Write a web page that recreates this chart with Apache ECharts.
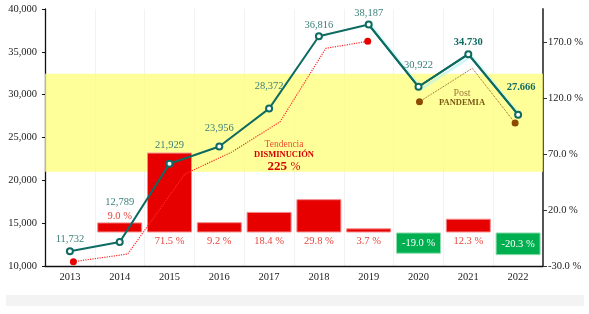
<!DOCTYPE html>
<html>
<head>
<meta charset="utf-8">
<script src="https://cdn.jsdelivr.net/npm/echarts@6/dist/echarts.min.js"></script>
<style>
  html, body { margin: 0; padding: 0; background: #fff; }
  #box { width: 589px; height: 314px; }
</style>
</head>
<body>
<div id="box"></div>
<script>
var chart = echarts.init(document.getElementById('box'));

// datos
var years = ['2013', '2014', '2015', '2016', '2017', '2018', '2019', '2020', '2021', '2022'];
var totals = [11732, 12789, 21929, 23956, 28372, 36816, 38187, 30922, 34730, 27666];
var totalLabels = ['11,732', '12,789', '21,929', '23,956', '28,372', '36,816', '38,187', '30,922', '34.730', '27.666'];
var growth = [null, 9.0, 71.5, 9.2, 18.4, 29.8, 3.7, -19.0, 12.3, -20.3];
// tendencia (linea punteada roja), x en posicion de categoria
var trendX = [0.07, 1.16, 2.31, 3.25, 4.22, 5.14, 5.98];
var trendY = [10500, 11400, 20740, 23300, 26840, 35410, 36230];
// post pandemia (linea punteada marron)
var postX = [7.02, 8.08, 8.94];
var postY = [29180, 33080, 26690];
var band = [21000, 32450];
var pctTicks = [-30, 20, 70, 120, 170];

var serif = "'Liberation Serif', 'DejaVu Serif', serif";
var labelDist = [2, 30, 9, 9, 13, 2, 2, 12, 2, 18];

function endDots(xs, ys, color) {
  return xs.map(function(x, i) {
    var end = (i === 0 || i === xs.length - 1);
    return {
      value: [x, ys[i]],
      symbol: end ? 'circle' : 'none',
      symbolSize: 7,
      itemStyle: { color: color }
    };
  });
}

var barData = growth.map(function(v, i) {
  if (v === null) return null;
  var neg = v < 0;
  var pos = neg ? 'inside' : (i === 1 ? 'top' : 'bottom');
  return {
    value: v,
    itemStyle: {
      color: neg ? '#00b050' : '#e60000',
      borderColor: neg ? '#8fdcae' : '#f58a8a',
      borderWidth: 1
    },
    label: {
      show: true,
      position: pos,
      distance: i === 1 ? 1 : 3,
      color: neg ? '#ffffff' : '#e8453c'
    }
  };
});

var lineData = totals.map(function(v, i) {
  var bold = i >= 8;
  return {
    value: v,
    label: {
      show: true,
      position: 'top',
      distance: labelDist[i],
      offset: [i === 9 ? 3 : 0, 0],
      formatter: totalLabels[i],
      color: bold ? '#0f6b62' : '#3a7f7a',
      fontWeight: bold ? 'bold' : 'normal'
    }
  };
});

var glowData = totals.map(function(v, i) { return i >= 6 ? v : null; });

option = {
  animation: false,
  textStyle: { fontFamily: serif },
  grid: { left: 45, right: 46, top: 9, bottom: 48 },
  graphic: [
    { type: 'rect', z: -10, shape: { x: 6, y: 295, width: 578, height: 11 }, style: { fill: '#f3f3f3' } },
    { type: 'text', x: 284, y: 144, z: 50, style: { text: 'Tendencia', fill: '#e8502f', font: '9.5px ' + serif, textAlign: 'center', textVerticalAlign: 'middle' } },
    { type: 'text', x: 284, y: 155, z: 50, style: { text: 'DISMINUCIÓN', fill: '#d40000', font: 'bold 8.5px ' + serif, textAlign: 'center', textVerticalAlign: 'middle' } },
    { type: 'text', x: 284, y: 167, z: 50, style: {
        text: '{a|225} {b|%}', textAlign: 'center', textVerticalAlign: 'middle',
        rich: {
          a: { fill: '#d40000', font: 'bold 13px ' + serif },
          b: { fill: '#d40000', font: '12px ' + serif }
        }
      } },
    { type: 'text', x: 462, y: 93, z: 50, style: { text: 'Post', fill: '#a07a3a', font: '10px ' + serif, textAlign: 'center', textVerticalAlign: 'middle' } },
    { type: 'text', x: 462, y: 103, z: 50, style: { text: 'PANDEMIA', fill: '#7a5a14', font: 'bold 8.5px ' + serif, textAlign: 'center', textVerticalAlign: 'middle' } }
  ],
  xAxis: [{
    type: 'category',
    data: years,
    axisLine: { onZero: false, lineStyle: { color: '#111', width: 1.3 } },
    axisTick: { length: 4, lineStyle: { color: '#111' } },
    axisLabel: { color: '#222', fontSize: 10.5, margin: 6, fontFamily: serif },
    splitLine: { show: true, lineStyle: { color: '#f2f2f2' } }
  }, {
    type: 'value',
    min: -0.5,
    max: 9.5,
    show: false
  }],
  yAxis: [{
    type: 'value',
    min: 10000,
    max: 40000,
    interval: 5000,
    axisLine: { show: true, onZero: false, lineStyle: { color: '#111', width: 1.3 } },
    axisTick: { show: true, length: 3, lineStyle: { color: '#111' } },
    axisLabel: {
      color: '#222', fontSize: 10.5, margin: 8, fontFamily: serif,
      formatter: function(v) { return v.toLocaleString('en-US'); }
    },
    splitLine: { show: false }
  }, {
    type: 'value',
    position: 'right',
    min: -30,
    max: 200,
    axisLine: { show: true, onZero: false, lineStyle: { color: '#555', width: 2 } },
    axisTick: { show: true, length: 4, customValues: pctTicks, lineStyle: { color: '#333' } },
    axisLabel: {
      color: '#222', fontSize: 10.5, margin: 5, fontFamily: serif,
      customValues: pctTicks,
      formatter: function(v) { return v.toFixed(1) + ' %'; }
    },
    splitLine: { show: false }
  }],
  series: [{
    name: 'Tendencia',
    type: 'line',
    xAxisIndex: 1,
    yAxisIndex: 0,
    data: endDots(trendX, trendY, '#e60000'),
    lineStyle: { color: '#ff2a2a', width: 1.2, type: 'dotted' },
    markArea: {
      silent: true,
      itemStyle: { color: 'rgba(255,255,120,0.75)' },
      data: [[{ yAxis: band[0] }, { yAxis: band[1] }]]
    }
  }, {
    name: 'Post pandemia',
    type: 'line',
    xAxisIndex: 1,
    yAxisIndex: 0,
    data: endDots(postX, postY, '#8b4a00'),
    lineStyle: { color: '#8b5a1a', width: 1, type: 'dotted' }
  }, {
    name: 'Variacion',
    type: 'bar',
    xAxisIndex: 0,
    yAxisIndex: 1,
    barWidth: 45,
    data: barData,
    label: {
      fontSize: 10.5,
      fontFamily: serif,
      formatter: function(p) { return p.value.toFixed(1) + ' %'; }
    }
  }, {
    name: 'glow',
    type: 'line',
    xAxisIndex: 0,
    yAxisIndex: 0,
    data: glowData,
    symbol: 'none',
    lineStyle: { color: '#0e6b61', width: 2, shadowColor: '#b9f1f1', shadowBlur: 2, shadowOffsetX: 3, shadowOffsetY: 2 }
  }, {
    name: 'Total',
    type: 'line',
    xAxisIndex: 0,
    yAxisIndex: 0,
    data: lineData,
    symbol: 'emptyCircle',
    symbolSize: 6,
    itemStyle: { color: '#0e6b61', borderWidth: 1.6 },
    lineStyle: { color: '#0e6b61', width: 2 },
    label: { fontSize: 10.5, fontFamily: serif }
  }]
};

chart.setOption(option);
</script>
</body>
</html>
